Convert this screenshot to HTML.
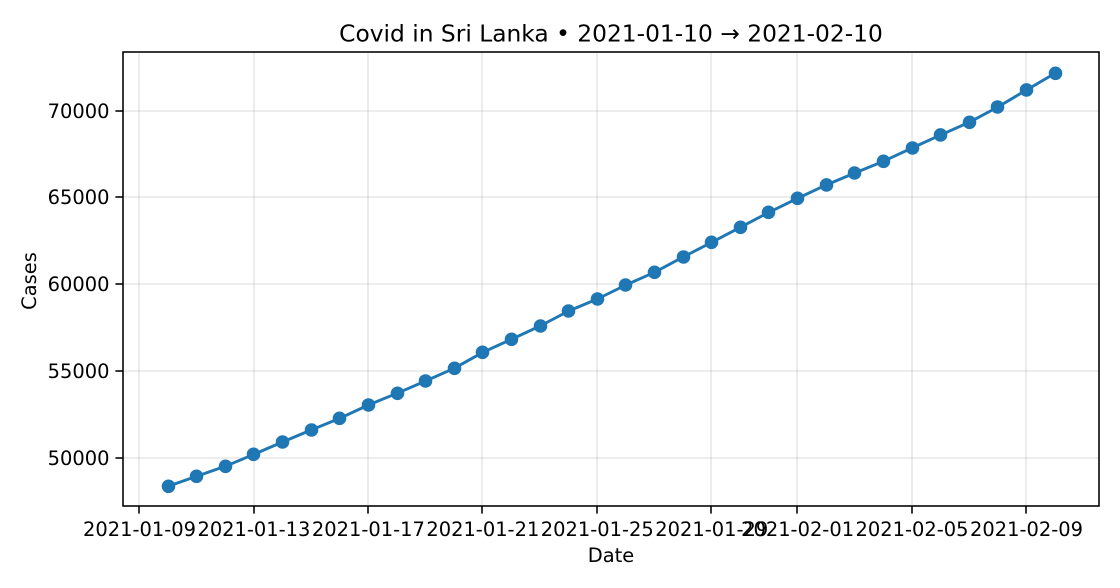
<!DOCTYPE html>
<html lang="en">
<head>
<meta charset="utf-8">
<title>Covid in Sri Lanka</title>
<style>
html,body{margin:0;padding:0;background:#fff;width:1120px;height:588px;overflow:hidden}
svg{display:block}
text{font-family:"DejaVu Sans","Liberation Sans",sans-serif;fill:#000}
</style>
</head>
<body>
<svg id="chart" width="1120" height="588" viewBox="0 0 1120 588" xmlns="http://www.w3.org/2000/svg">
  <rect x="0" y="0" width="1120" height="588" fill="#fff"/>
  <g id="grid"></g>
  <g id="series"></g>
  <g id="axes"></g>
  <text x="611" y="41.5" font-size="23.33" text-anchor="middle">Covid in Sri Lanka • 2021-01-10 → 2021-02-10</text>
  <text x="611" y="562" font-size="19.44" text-anchor="middle">Date</text>
  <text transform="translate(36 281) rotate(-90)" font-size="19.44" text-anchor="middle">Cases</text>
</svg>
<script>
const dates = ["2021-01-10","2021-01-11","2021-01-12","2021-01-13","2021-01-14","2021-01-15","2021-01-16","2021-01-17","2021-01-18","2021-01-19","2021-01-20","2021-01-21","2021-01-22","2021-01-23","2021-01-24","2021-01-25","2021-01-26","2021-01-27","2021-01-28","2021-01-29","2021-01-30","2021-01-31","2021-02-01","2021-02-02","2021-02-03","2021-02-04","2021-02-05","2021-02-06","2021-02-07","2021-02-08","2021-02-09","2021-02-10"];
const cases = [48370,48946,49522,50213,50921,51612,52286,53052,53725,54434,55165,56086,56835,57600,58464,59155,59961,60693,61574,62420,63284,64148,64954,65720,66410,67084,67850,68599,69330,70211,71190,72152];
const xTickLabels = ["2021-01-09","2021-01-13","2021-01-17","2021-01-21","2021-01-25","2021-01-29","2021-02-01","2021-02-05","2021-02-09"];
const yTickValues = [50000,55000,60000,65000,70000];
const yDomain = [47236,73377];
const xDomain = ["2021-01-08T10:48","2021-02-11T13:12"];

const NS = "http://www.w3.org/2000/svg";
const plot = {left:123, right:1099, top:52, bottom:506};
const gridGroup = document.getElementById("grid");
const seriesGroup = document.getElementById("series");
const axesGroup = document.getElementById("axes");

function toTime(s){ return new Date(s.length === 10 ? s + "T00:00Z" : s + "Z").getTime(); }
function xScale(d){
  const a = toTime(xDomain[0]), b = toTime(xDomain[1]);
  return plot.left + 0.75 + (toTime(d) - a) / (b - a) * (plot.right - plot.left - 0.3);
}
function yScale(v){
  return plot.bottom - (v - yDomain[0]) / (yDomain[1] - yDomain[0]) * (plot.bottom - plot.top);
}
function make(tag, attrs, parent){
  const el = document.createElementNS(NS, tag);
  for (const k in attrs) el.setAttribute(k, attrs[k]);
  parent.appendChild(el);
  return el;
}

xTickLabels.forEach(function(label){
  const x = Math.floor(xScale(label) + 0.1);
  const g = make("line", {x1:x, x2:x, y1:plot.top, y2:plot.bottom, stroke:"#b0b0b0", "stroke-opacity":0.3, "stroke-width":1.56}, gridGroup);
  
  
  const t = make("line", {x1:x, x2:x, y1:plot.bottom, y2:plot.bottom + 7.6, stroke:"#000", "stroke-width":1.56}, axesGroup);
  
  
  const l = make("text", {x:xScale(label), y:536, "font-size":19.44, "text-anchor":"middle"}, axesGroup);
  
  
  l.textContent = label;
});

yTickValues.forEach(function(value){
  const y = Math.round(yScale(value));
  const g = make("line", {x1:plot.left, x2:plot.right, y1:y, y2:y, stroke:"#b0b0b0", "stroke-opacity":0.3, "stroke-width":1.56}, gridGroup);
  
  
  const t = make("line", {x1:plot.left - 7.6, x2:plot.left, y1:y, y2:y, stroke:"#000", "stroke-width":1.56}, axesGroup);
  
  
  const l = make("text", {x:109.5, y:y + 7, "font-size":19.44, "text-anchor":"end"}, axesGroup);
  
  
  l.textContent = String(value);
});

const points = dates.map(function(d, i){ return xScale(d).toFixed(2) + "," + yScale(cases[i]).toFixed(2); }).join(" ");
const line = make("polyline", {points:points, fill:"none", stroke:"#1f77b4", "stroke-width":2.92, "stroke-linejoin":"round", "stroke-linecap":"square"}, seriesGroup);



dates.forEach(function(d, i){
  const c = make("circle", {cx:(Math.floor(xScale(d)) + 0.5).toFixed(2), cy:yScale(cases[i]).toFixed(2), r:5.83, fill:"#1f77b4", stroke:"#1f77b4", "stroke-width":1.94}, seriesGroup);
  
  
});

const frame = make("rect", {x:plot.left, y:plot.top, width:plot.right - plot.left, height:plot.bottom - plot.top, fill:"none", stroke:"#000", "stroke-width":1.56}, axesGroup);


</script>
</body>
</html>
